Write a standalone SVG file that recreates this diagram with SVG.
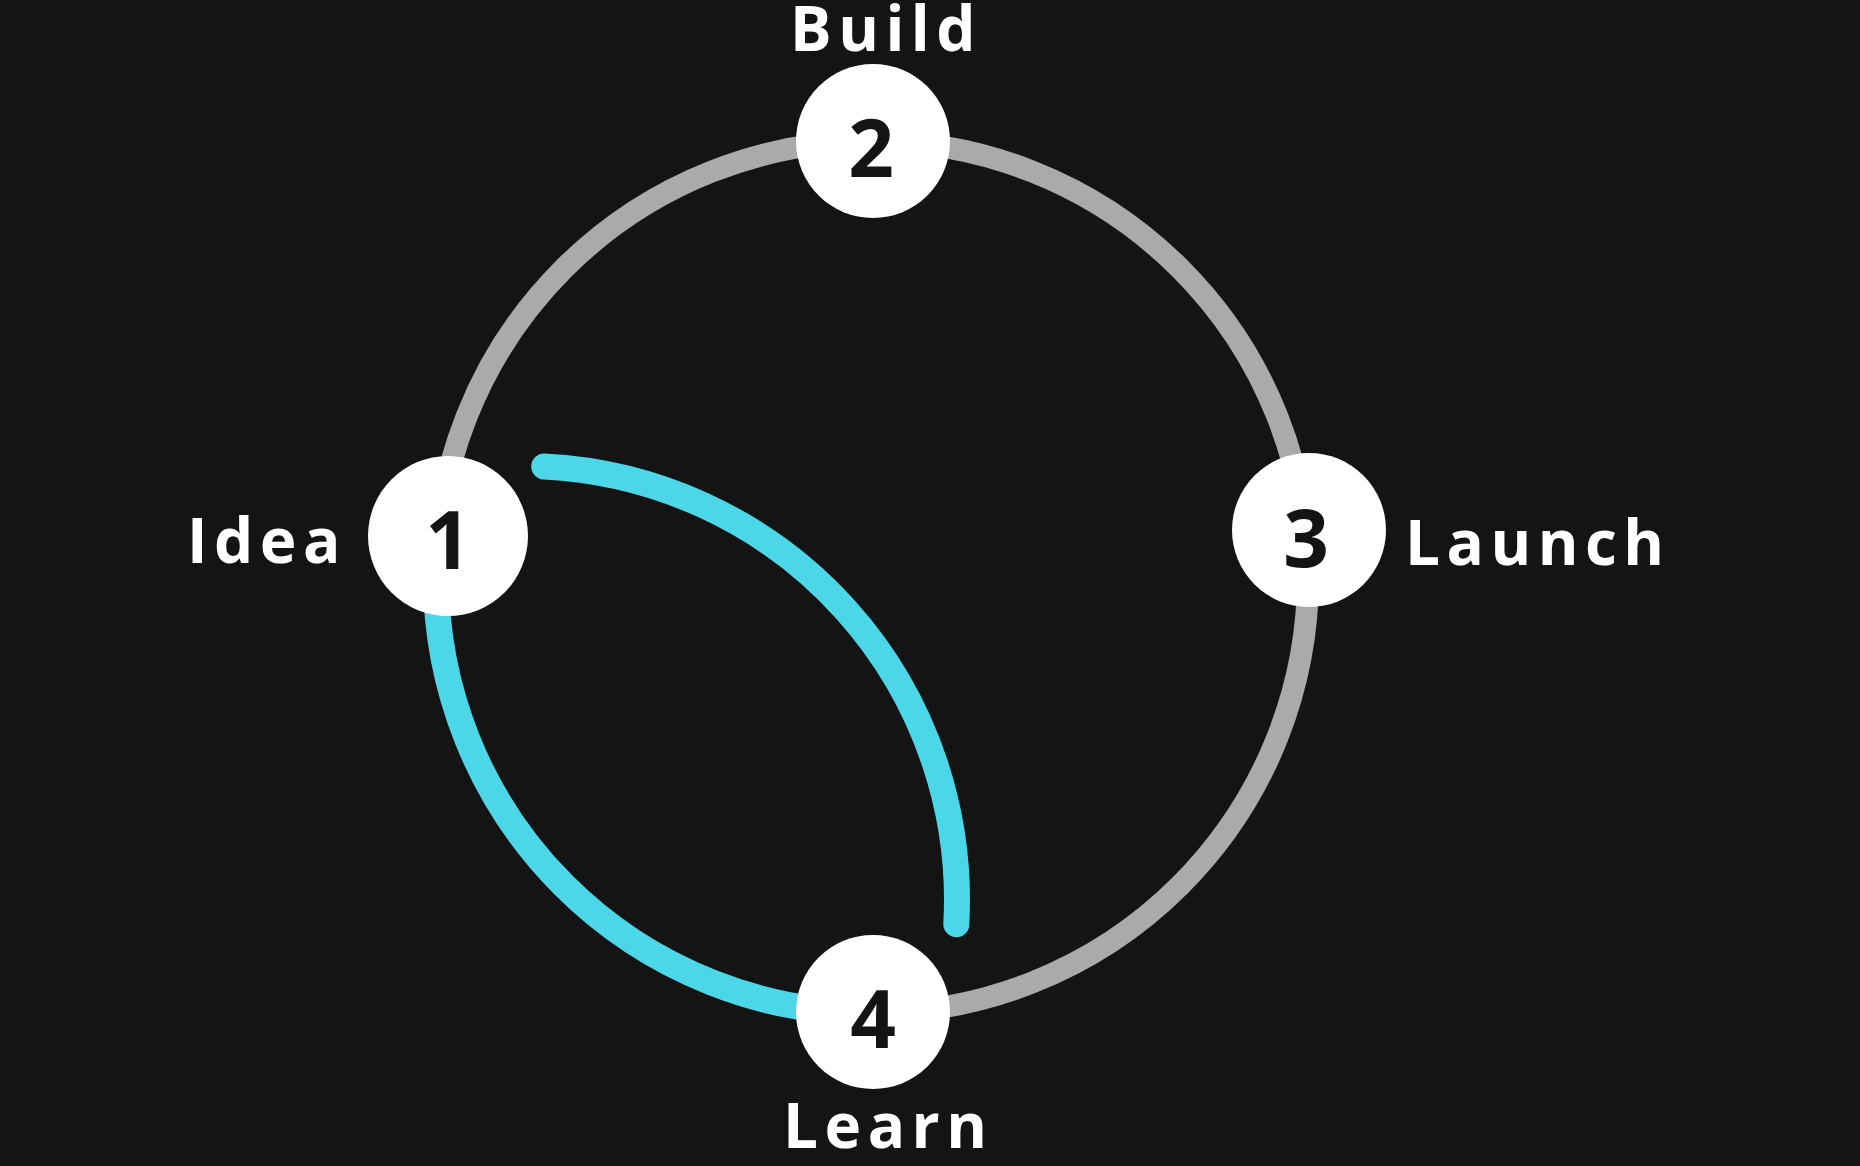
<svg xmlns="http://www.w3.org/2000/svg" width="1860" height="1166" viewBox="0 0 1860 1166">
  <style>
    .ring { fill: none; stroke: #aaaaaa; stroke-width: 22; }
    .prog { fill: none; stroke: #4bd7e7; stroke-width: 26; stroke-linecap: round; }
    .node { fill: #ffffff; }
    .num { font-family: "Open Sans", "DejaVu Sans", sans-serif; font-weight: 700; font-size: 80px; fill: #141414; text-anchor: middle; }
    .label { font-family: "Open Sans", "DejaVu Sans", sans-serif; font-weight: 700; font-size: 62px; fill: #ffffff; letter-spacing: 6.5px; }
  </style>
  <rect width="1860" height="1166" fill="#141414"/>
  <g id="connectors">
    <circle class="ring" cx="872" cy="577" r="436"/>
    <path class="prog" d="M 436 577 A 436 436 0 0 0 872 1013"/>
    <path class="prog" d="M 544.2 466.5 A 434 434 0 0 1 956.3 924.2"/>
  </g>
  <g id="node1">
    <circle class="node" cx="448" cy="536" r="80"/>
    <text class="num" x="448" y="569">1</text>
    <text class="label" x="187" y="563">Idea</text>
  </g>
  <g id="node2">
    <circle class="node" cx="873" cy="141" r="77"/>
    <text class="num" x="871" y="177">2</text>
    <text class="label" x="790" y="51">Build</text>
  </g>
  <g id="node3">
    <circle class="node" cx="1309" cy="530" r="77"/>
    <text class="num" x="1306" y="567">3</text>
    <text class="label" x="1405" y="565">Launch</text>
  </g>
  <g id="node4">
    <circle class="node" cx="873" cy="1012" r="77"/>
    <text class="num" x="873" y="1048">4</text>
    <text class="label" x="783" y="1148">Learn</text>
  </g>
</svg>
